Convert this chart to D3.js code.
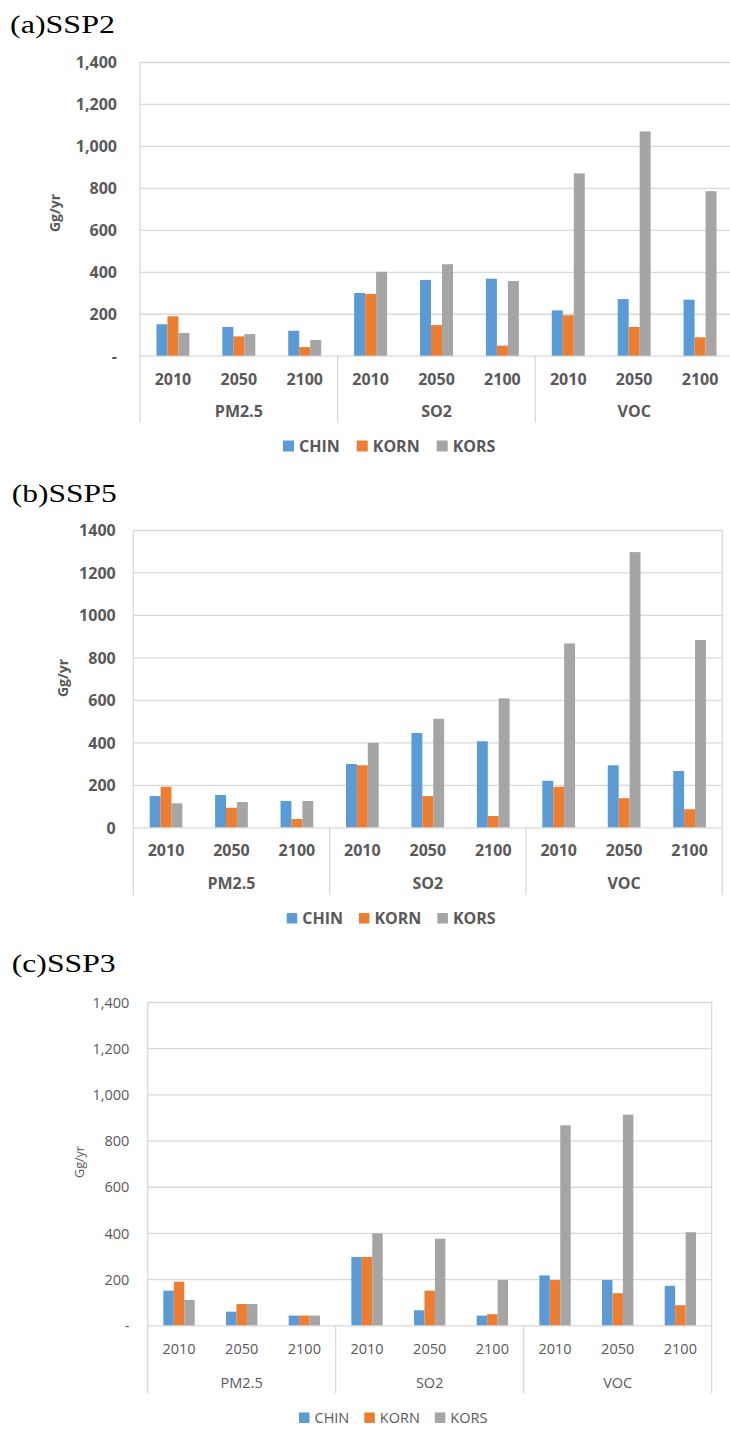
<!DOCTYPE html>
<html><head><meta charset="utf-8">
<script src="https://cdn.jsdelivr.net/npm/d3@7"></script>
<style>html,body{margin:0;padding:0;background:#fff;}svg{display:block;}</style>
</head><body>
<svg id="chart" width="730" height="1441"></svg>
<script>
// ---- data ----
const years = ["2010", "2050", "2100"];
const pollutants = ["PM2.5", "SO2", "VOC"];
const seriesNames = ["CHIN", "KORN", "KORS"];
const seriesColors = ["#5B9BD5", "#ED7D31", "#A5A5A5"];
const yTickValues = [0, 200, 400, 600, 800, 1000, 1200, 1400];
const yTickLabelsComma = ["-", "200", "400", "600", "800", "1,000", "1,200", "1,400"];
const yTickLabelsPlain = ["0", "200", "400", "600", "800", "1000", "1200", "1400"];

// order: PM2.5 2010,2050,2100, SO2 2010,2050,2100, VOC 2010,2050,2100
const ssp2CHIN = [150, 137, 119, 299, 361, 367, 216, 270, 267];
const ssp2KORN = [188, 92, 41, 294, 146, 48, 193, 137, 88];
const ssp2KORS = [108, 103, 75, 400, 436, 356, 869, 1069, 784];

const ssp5CHIN = [147, 152, 124, 298, 444, 405, 219, 292, 265];
const ssp5KORN = [191, 92, 39, 292, 147, 53, 191, 137, 85];
const ssp5KORS = [113, 119, 124, 398, 511, 607, 866, 1296, 882];

const ssp3CHIN = [150, 59, 42, 296, 65, 42, 216, 196, 171];
const ssp3KORN = [189, 92, 42, 296, 150, 48, 196, 139, 87];
const ssp3KORS = [110, 92, 42, 398, 375, 196, 866, 912, 403];

const panelTitles = ["(a)SSP2", "(b)SSP5", "(c)SSP3"];
const yTitle = "Gg/yr";

// ---- layout / style ----
const panels = [
  { title: panelTitles[0], series: [ssp2CHIN, ssp2KORN, ssp2KORS], labels: yTickLabelsComma,
    titleX: 10, titleY: 32.5, titleW: 105,
    left: 140, right: 733, top: 62, base: 355.7, divBottom: 423,
    yearY: 384.7, groupY: 417.4, legY: 446, legX: 283, legSq: 11, legGap: 17,
    tickRight: 117, ytX: 55, ytY: 213, font: 16, weight: 700, ytFont: 14, color: "#595959", rightBorder: false },
  { title: panelTitles[1], series: [ssp5CHIN, ssp5KORN, ssp5KORS], labels: yTickLabelsPlain,
    titleX: 11.7, titleY: 501.7, titleW: 105,
    left: 133.3, right: 722.3, top: 530, base: 827.3, divBottom: 895,
    yearY: 856.4, groupY: 888.7, legY: 918.3, legX: 286.7, legSq: 10.5, legGap: 16,
    tickRight: 115.7, ytX: 63, ytY: 678, font: 16, weight: 700, ytFont: 14, color: "#595959", rightBorder: true },
  { title: panelTitles[2], series: [ssp3CHIN, ssp3KORN, ssp3KORS], labels: yTickLabelsComma,
    titleX: 11.7, titleY: 971.7, titleW: 104,
    left: 147.7, right: 711.7, top: 1002, base: 1325.3, divBottom: 1393.3,
    yearY: 1353.5, groupY: 1387.9, legY: 1417.7, legX: 299, legSq: 10.5, legGap: 15,
    tickRight: 129.3, ytX: 80, ytY: 1162, font: 14.5, weight: 400, ytFont: 12.5, color: "#595959", rightBorder: true }
];

const svg = d3.select("#chart");
const gridColor = "#D9D9D9";
const fontFamily = "'Open Sans', 'Noto Sans', sans-serif";

const catKeys = [];
pollutants.forEach(p => years.forEach(y => catKeys.push(p + "|" + y)));

panels.forEach(P => {
  const g = svg.append("g");

  // title
  g.append("text")
    .attr("x", P.titleX).attr("y", P.titleY)
    .attr("font-family", "'Liberation Serif', 'Times New Roman', serif")
    .attr("font-size", 26).attr("fill", "#000")
    .attr("textLength", P.titleW).attr("lengthAdjust", "spacingAndGlyphs")
    .text(P.title);

  const y = d3.scaleLinear().domain([0, 1400]).range([P.base, P.top]);
  const x = d3.scaleBand().domain(catKeys).range([P.left, P.right]).padding(0);
  const cw = x.bandwidth();
  const xs = d3.scaleBand().domain(seriesNames).range([cw * 0.25, cw * 0.75]).padding(0);
  const xg = d3.scaleBand().domain(pollutants).range([P.left, P.right]).padding(0);

  // gridlines
  const grid = g.append("g").attr("transform", `translate(${P.left},0)`)
    .call(d3.axisLeft(y).tickValues(yTickValues).tickSize(-(P.right - P.left)).tickFormat(""));
  grid.select(".domain").remove();
  grid.selectAll("line").attr("stroke", gridColor).attr("stroke-width", 1.3);

  // y tick labels
  const yl = g.append("g").attr("transform", `translate(${P.tickRight},0)`)
    .call(d3.axisLeft(y).tickValues(yTickValues).tickSize(0).tickPadding(0)
      .tickFormat((d, i) => P.labels[i]));
  yl.select(".domain").remove();
  yl.selectAll("text")
    .attr("font-family", fontFamily).attr("font-size", P.font).attr("font-weight", P.weight)
    .attr("fill", P.color).attr("dy", "0.36em");

  // y axis title
  g.append("text")
    .attr("transform", `translate(${P.ytX},${P.ytY}) rotate(-90)`)
    .attr("text-anchor", "middle").attr("dy", "0.35em")
    .attr("font-family", fontFamily).attr("font-size", P.ytFont).attr("font-weight", P.weight)
    .attr("fill", P.color).text(yTitle);

  // left axis line and right border
  g.append("line").attr("x1", P.left).attr("x2", P.left).attr("y1", P.top).attr("y2", P.divBottom)
    .attr("stroke", gridColor).attr("stroke-width", 1.3);
  if (P.rightBorder) {
    g.append("line").attr("x1", P.right).attr("x2", P.right).attr("y1", P.top).attr("y2", P.divBottom)
      .attr("stroke", gridColor).attr("stroke-width", 1.3);
  }
  // group dividers
  pollutants.slice(1).forEach(p => {
    g.append("line").attr("x1", xg(p)).attr("x2", xg(p)).attr("y1", P.base).attr("y2", P.divBottom)
      .attr("stroke", gridColor).attr("stroke-width", 1.3);
  });

  // bars
  seriesNames.forEach((s, si) => {
    g.append("g").selectAll("rect").data(P.series[si]).join("rect")
      .attr("x", (d, i) => x(catKeys[i]) + xs(s))
      .attr("width", xs.bandwidth())
      .attr("y", d => y(d))
      .attr("height", d => y(0) - y(d))
      .attr("fill", seriesColors[si]);
  });

  // year labels
  g.append("g").selectAll("text").data(catKeys).join("text")
    .attr("x", d => x(d) + cw / 2).attr("y", P.yearY)
    .attr("text-anchor", "middle")
    .attr("font-family", fontFamily).attr("font-size", P.font).attr("font-weight", P.weight)
    .attr("fill", P.color).text(d => d.split("|")[1]);

  // group labels
  g.append("g").selectAll("text").data(pollutants).join("text")
    .attr("x", d => xg(d) + xg.bandwidth() / 2).attr("y", P.groupY)
    .attr("text-anchor", "middle")
    .attr("font-family", fontFamily).attr("font-size", P.font).attr("font-weight", P.weight)
    .attr("fill", P.color).text(d => d);

  // legend
  let lx = P.legX;
  seriesNames.forEach((s, si) => {
    g.append("rect").attr("x", lx).attr("y", P.legY - P.legSq / 2)
      .attr("width", P.legSq).attr("height", P.legSq).attr("fill", seriesColors[si]);
    const t = g.append("text").attr("x", lx + P.legSq + 5).attr("y", P.legY).attr("dy", "0.36em")
      .attr("font-family", fontFamily).attr("font-size", P.font).attr("font-weight", P.weight)
      .attr("fill", P.color).text(s);
    lx += P.legSq + 5 + t.node().getComputedTextLength() + P.legGap;
  });
});
</script>
</body></html>
